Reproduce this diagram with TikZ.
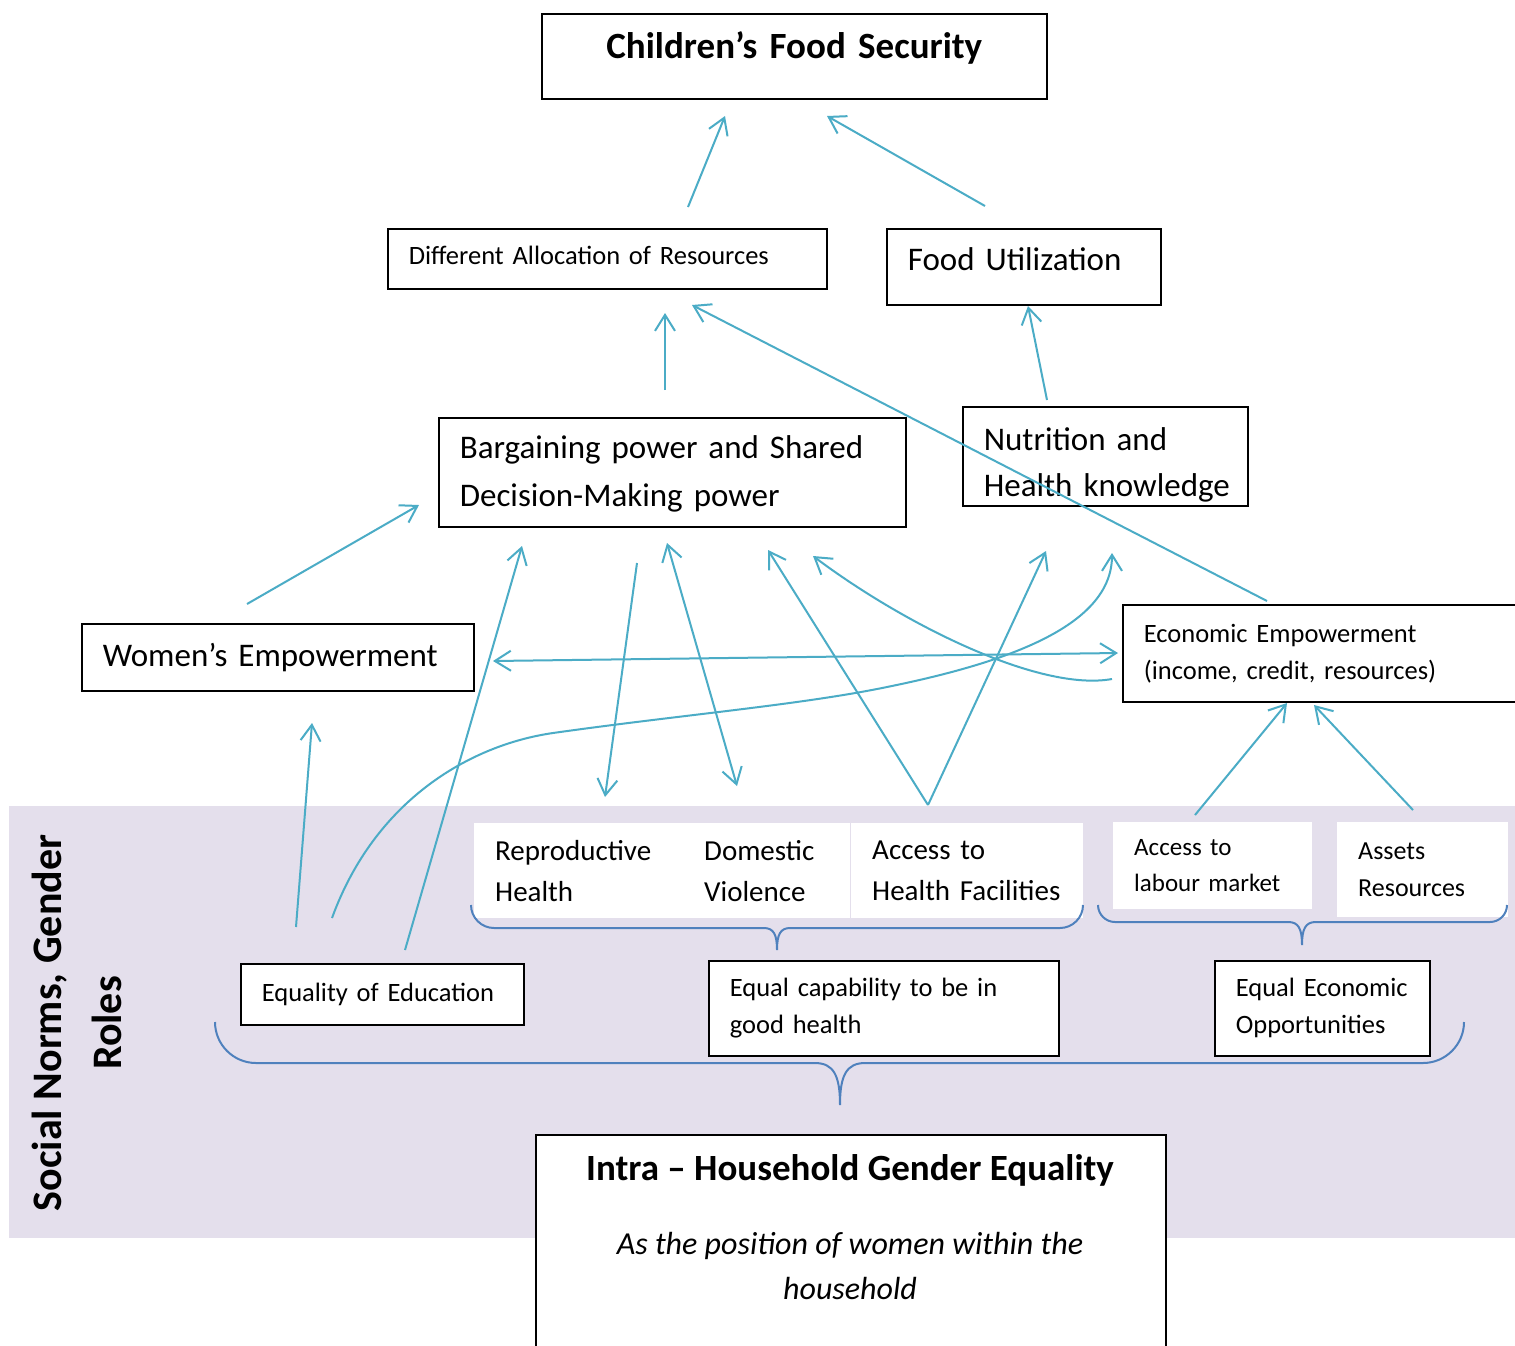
\documentclass[tikz,border=0pt]{standalone}
\usepackage{fontspec}
\setmainfont{Carlito}
\usetikzlibrary{arrows.meta}
\hyphenpenalty=10000
\exhyphenpenalty=10000

\definecolor{flowcol}{RGB}{75,172,198}
\definecolor{bracecol}{RGB}{79,129,189}
\definecolor{normsbg}{RGB}{228,223,236}

\tikzset{
  box/.style={draw, line width=1.6pt, fill=white, anchor=north west, align=left, inner xsep=21pt, inner ysep=0pt},
  blank/.style={fill=white, anchor=north west, align=left, inner xsep=21pt, inner ysep=0pt},
  flow/.style={flowcol, line width=2pt},
  curly/.style={bracecol, line width=2pt},
}

% curly brace as Word draws it: left x, tip x, right x, top y, mid y, tip y
\newcommand{\wordbrace}[6]{%
  \draw[curly] (#1,#4) .. controls (#1,{#4+0.55*(#5-#4)}) and ({#1+0.45*(#5-#4)},#5) .. ({#1+#5-#4},#5)
    -- ({#2-0.6*(#6-#5)},#5) .. controls ({#2-0.15*(#6-#5)},#5) and (#2,{#5+0.3*(#6-#5)}) .. (#2,#6)
    .. controls (#2,{#5+0.3*(#6-#5)}) and ({#2+0.15*(#6-#5)},#5) .. ({#2+0.6*(#6-#5)},#5)
    -- ({#3-#5+#4},#5) .. controls ({#3-0.45*(#5-#4)},#5) and (#3,{#4+0.55*(#5-#4)}) .. (#3,#4);}

\begin{document}
\begin{tikzpicture}[x=1pt, y=-1pt, >={Straight Barb[length=16pt,width=20pt]}]
  \path[fill=white, use as bounding box] (0,0) rectangle (1515,1345);
  % band of social norms
  \fill[normsbg] (9,806) rectangle (1515,1238);
  \node (snorm) [rotate=90, align=center, font=\fontsize{42}{60}\selectfont\bfseries] at (77,1023) {Social Norms, Gender\\Roles};

  % boxes
  \node (cfs) [box, align=center, text width=463pt, minimum height=85pt, text depth=23pt, font=\fontsize{37}{44}\selectfont\bfseries] at (541,13) {Children’s Food Security};
  \node (dar) [box, text width=397pt, minimum height=60pt, text depth=7pt, font=\fontsize{26.5}{32}\selectfont] at (387,228) {Different Allocation of Resources};
  \node (fu) [box, text width=232pt, minimum height=76pt, text depth=16pt, font=\fontsize{33}{40}\selectfont] at (886,228) {Food Utilization};
  \node (barg) [box, text width=425pt, minimum height=109pt, text height=27pt, font=\fontsize{33}{48}\selectfont] at (438,417) {Bargaining power and Shared\\Decision-Making power};
  \node (nhk) [box, text width=243pt, minimum height=99pt, text height=40pt, font=\fontsize{33}{46}\selectfont] at (962,406) {Nutrition and\\\mbox{Health knowledge}};
  \node (we) [box, text width=350pt, minimum height=67pt, font=\fontsize{33}{40}\selectfont] at (81,623) {Women’s Empowerment};
  \node (ee) [box, text width=378pt, minimum height=97pt, font=\fontsize{26.5}{37}\selectfont] at (1122,604) {Economic Empowerment\\(income, credit, resources)};

  % items in the band
  \node (repro) [blank, text width=167pt, minimum height=95pt, font=\fontsize{29}{41}\selectfont] at (474,823) {Reproductive\\Health};
  \node (dom) [blank, text width=125pt, minimum height=95pt, font=\fontsize{29}{41}\selectfont] at (683,823) {Domestic\\Violence};
  \node (acc) [blank, text width=190pt, minimum height=95pt, font=\fontsize{29}{41}\selectfont] at (851,823) {Access to\\\mbox{Health Facilities}};
  \node (lab) [blank, text width=157pt, minimum height=87pt, font=\fontsize{25}{36}\selectfont] at (1113,822) {Access to\\labour market};
  \node (ass) [blank, text width=129pt, minimum height=95pt, font=\fontsize{26}{37}\selectfont] at (1337,822) {Assets\\Resources};
  \node (eoe) [box, text width=241pt, minimum height=61pt, font=\fontsize{26.5}{32}\selectfont] at (240,963) {Equality of Education};
  \node (ecap) [box, text width=308pt, minimum height=95pt, font=\fontsize{26.5}{37}\selectfont] at (708,960) {Equal capability to be in\\good health};
  \node (eeo) [box, text width=173pt, minimum height=95pt, font=\fontsize{26.5}{37}\selectfont] at (1214,960) {Equal Economic\\Opportunities};

  % bottom box
  \node (ihg) [box, minimum width=630pt, minimum height=260pt] at (535,1134) {};
  \node (ihgT) [font=\fontsize{37}{44}\selectfont\bfseries] at (850,1170) {Intra – Household Gender Equality};
  \node (ihgS) [align=center, font=\fontsize{32}{45}\selectfont\itshape] at (850,1266) {As the position of women within the\\household};

  % arrow ends
  \coordinate (darTop) at (688,207);
  \coordinate (cfsA) at (725,116);
  \coordinate (fuTop) at (985,206);
  \coordinate (cfsB) at (827,116);
  \coordinate (bargTop) at (665,390);
  \coordinate (darA) at (665,313);
  \coordinate (eeTop) at (1267,601);
  \coordinate (darB) at (692,305);
  \coordinate (nhkTop) at (1047,400);
  \coordinate (fuA) at (1028,306);
  \coordinate (weTop) at (247,604);
  \coordinate (bargA) at (419,505);
  \coordinate (eoeTopR) at (405,950);
  \coordinate (bargB) at (522,546);
  \coordinate (bargBot) at (637,563);
  \coordinate (reproA) at (605,797);
  \coordinate (bargC) at (667,543);
  \coordinate (domA) at (737,786);
  \coordinate (accTop) at (928,805);
  \coordinate (bargD) at (768,550);
  \coordinate (nhkA) at (1046,551);
  \coordinate (eeLeft) at (1112,679);
  \coordinate (bargE) at (813,556);
  \coordinate (weRight) at (493,661);
  \coordinate (eeA) at (1118,653);
  \coordinate (eoeTopM) at (332,918);
  \coordinate (nhkB) at (1112,553);
  \coordinate (eoeTopL) at (296,927);
  \coordinate (weBot) at (312,723);
  \coordinate (labTop) at (1195,815);
  \coordinate (eeB) at (1287,703);
  \coordinate (assTop) at (1413,810);
  \coordinate (eeC) at (1314,705);

  % arrows
  \draw[flow,->] (darTop) -- (cfsA);
  \draw[flow,->] (fuTop) -- (cfsB);
  \draw[flow,->] (bargTop) -- (darA);
  \draw[flow,->] (eeTop) -- (darB);
  \draw[flow,->] (nhkTop) -- (fuA);
  \draw[flow,->] (weTop) -- (bargA);
  \draw[flow,->] (eoeTopR) -- (bargB);
  \draw[flow,->] (bargBot) -- (reproA);
  \draw[flow,<->] (bargC) -- (domA);
  \draw[flow,->] (accTop) -- (bargD);
  \draw[flow,->] (accTop) -- (nhkA);
  \draw[flow,->] (eeLeft) .. controls (1040,692) and (905,625) .. (bargE);
  \draw[flow,<->] (weRight) -- (eeA);
  \draw[flow,->] (eoeTopM) .. controls (375,800) and (470,745) .. (553,733)
    .. controls (680,715) and (800,705) .. (887,687)
    .. controls (1010,662) and (1112,625) .. (nhkB);
  \draw[flow,->] (eoeTopL) -- (weBot);
  \draw[flow,->] (labTop) -- (eeB);
  \draw[flow,->] (assTop) -- (eeC);

  % braces
  \wordbrace{471}{777}{1083}{905}{928}{950}
  \wordbrace{1098}{1302}{1507}{905}{922}{945}
  \wordbrace{215}{840}{1464}{1022}{1063}{1105}
\end{tikzpicture}
\end{document}
